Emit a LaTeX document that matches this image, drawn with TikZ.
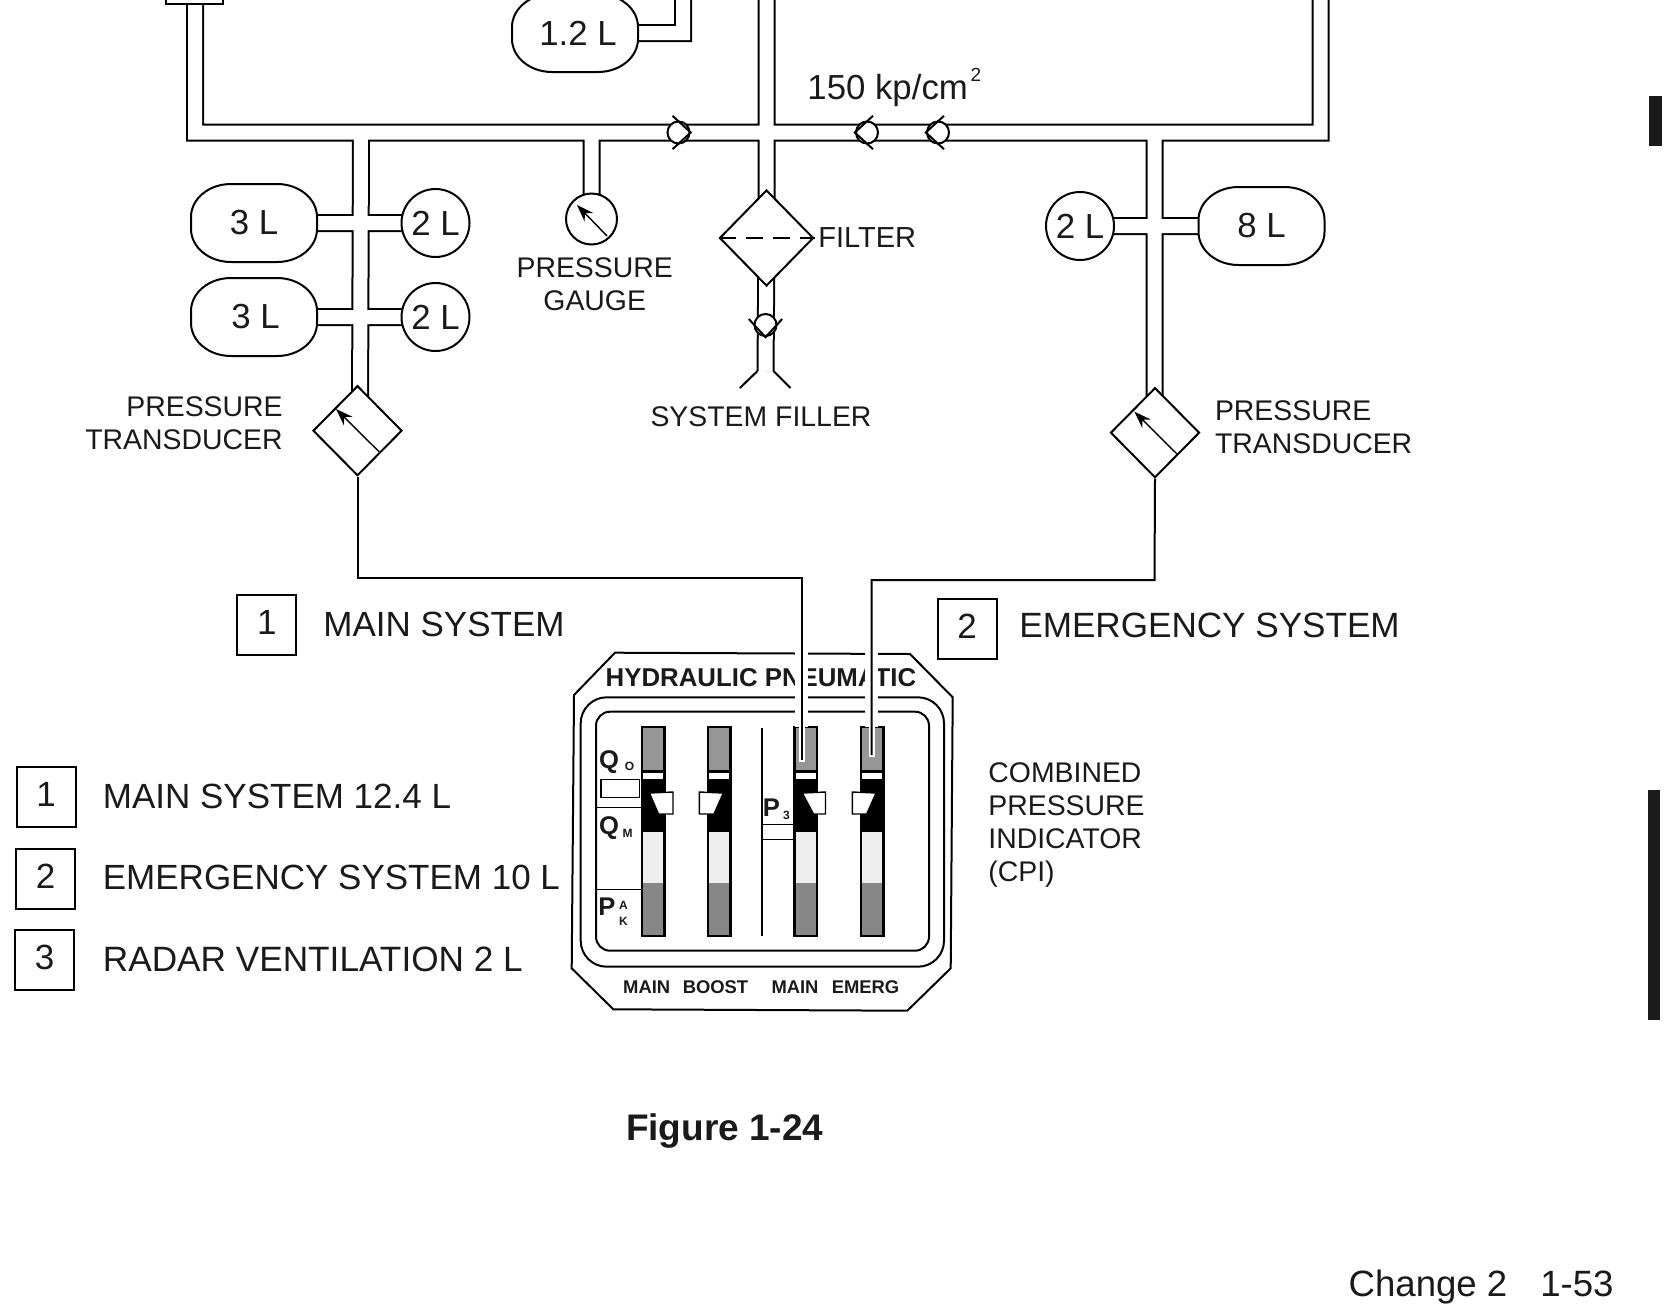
\documentclass[tikz,border=0pt]{standalone}
\usepackage{fontspec}
\setmainfont{Liberation Sans}
\usepackage{tikz}
\usetikzlibrary{arrows.meta, shapes.geometric, backgrounds}

\definecolor{inkblack}{HTML}{1A1A1A}
\definecolor{bargray}{HTML}{969696}
\definecolor{barlight}{HTML}{EEEEEE}

\tikzset{
  ln/.style={line width=1pt, draw=black},
  txt/.style={inner sep=0pt, text=inkblack, font=\fontsize{14.2}{16.4}\selectfont},
  big/.style={inner sep=0pt, text=inkblack, font=\fontsize{17.5}{20}\selectfont},
  tank/.style={inner sep=0pt, minimum width=63pt, minimum height=39pt, font=\fontsize{17.4}{20}\selectfont, text=inkblack},
  ball/.style={ln, fill=white, circle, inner sep=0pt, minimum size=34pt, font=\fontsize{17.4}{20}\selectfont, text=inkblack},
  xmtr/.style={ln, fill=white, diamond, inner sep=0pt, minimum width=44.5pt, minimum height=45pt},
  valve/.style={ln, fill=white, circle, inner sep=0pt, minimum size=11pt},
  tag/.style={ln, inner sep=0pt, minimum width=29.5pt, minimum height=30pt, text depth=3pt, font=\fontsize{17.5}{20}\selectfont, text=inkblack},
  cpi/.style={inner sep=0pt, text=inkblack, font=\bfseries\fontsize{9.2}{11}\selectfont},
  cpibig/.style={inner sep=0pt, text=inkblack, font=\bfseries\fontsize{12.8}{14}\selectfont},
  cpismall/.style={inner sep=0pt, text=inkblack, font=\bfseries\fontsize{6}{7}\selectfont},
  halo/.style={white, line width=6.5pt},
  needle/.style={line width=0.7pt, -{Stealth[length=8.5pt,width=6pt]}}
}

\begin{document}
\begin{tikzpicture}[x=0.5pt, y=-0.5pt, >=Stealth]
\path[use as bounding box, clip] (0,0) rectangle (1664,1312);

% parts on the lines
\node[ln, fill=white, inner sep=0pt, minimum width=28.5pt, minimum height=14pt] (stub) at (194,-10) {};
\foreach \tn/\tx/\ty/\lx/\tt in {tankT/575/33/578/1.2 L, tankA/254/223/254/3 L, tankB/254/317/255.5/3 L, tankE/1261.5/226/1261.5/8 L} {
  \draw[ln, fill=white] (\tx-23,\ty-39) -- (\tx+23,\ty-39)
    arc[start angle=90, end angle=0, x radius=20pt, y radius=16.5pt] -- ++(0,12)
    arc[start angle=0, end angle=-90, x radius=20pt, y radius=16.5pt] -- (\tx-23,\ty+39)
    arc[start angle=-90, end angle=-180, x radius=20pt, y radius=16.5pt] -- ++(0,-12)
    arc[start angle=180, end angle=90, x radius=20pt, y radius=16.5pt] -- cycle;
  \node[tank] (\tn) at (\lx,\ty) {\tt};
}
\node[ball] (ballA) at (435.5,223) {2 L};
\node[ball] (ballB) at (435.5,317) {2 L};
\node[ball] (ballE) at (1080,226) {2 L};
\node[ln, fill=white, circle, inner sep=0pt, minimum size=25.5pt] (gauge) at (591.5,219) {};
\node[xmtr, minimum width=47pt, minimum height=48pt] (filter) at (766.5,238) {};
\node[xmtr] (xmtrL) at (357.5,430.7) {};
\node[xmtr] (xmtrR) at (1155,432.7) {};
\foreach \vn/\vx/\vy/\vr in {chkA/678.5/132.5/0, chkB/867/132.5/180, chkC/938/132.5/180, chkD/765.5/325/-90} {
  \node[valve] (\vn) at (\vx,\vy) {};
  \draw[ln, shift={(\vn)}, rotate=\vr] (-6,-16.7) -- (12.2,0) -- (-6,16.7);
}

% ends and tees of the double lines
\coordinate (lft) at (195,0);
\coordinate (rgt) at (1320.5,0);
\coordinate (ctr) at (766.5,0);
\coordinate (jR) at (1320.5,132.5);
\coordinate (jL) at (361,132.5);
\coordinate (jE) at (1154.5,132.5);
\coordinate (endL) at (360,420);
\coordinate (endR) at (1154.5,420);
\coordinate (fill) at (765.5,371);
\coordinate (tTop) at (683,0);

\begin{scope}[on background layer]
\foreach \pw/\pc in {9pt/black, 7pt/white}
  \draw[line width=\pw, \pc] (lft) |- (jR) -- (rgt)
    (ctr) -- (filter.center) -- (fill)
    (jL) -- (endL) (jE) -- (endR)
    (gauge.center |- jR) -- (gauge.center)
    (tankA.center) -- (ballA.center) (tankB.center) -- (ballB.center) (ballE.center) -- (tankE.center)
    (tankT.center) -| (tTop);
\end{scope}

% filler mouth, filter and dial marks
\draw[ln] ([xshift=-4pt]fill) -- ++(-8.8pt,-8.5pt);
\draw[ln] ([xshift=4pt]fill) -- ++(8.5pt,-8.5pt);
\draw[ln, dash pattern=on 8.5pt off 5pt] (filter.west) -- (filter.east);
\draw[needle] (607,236) -- (577,205);
\draw[needle] (379.3,452) -- (336,409);
\draw[needle] (1177,454) -- (1134.4,411.7);

% labels on the diagram
\node[txt, anchor=east, align=right] (lblL) at (283,423.5) {PRESSURE\\TRANSDUCER};
\node[txt, anchor=west, align=left] (lblR) at (1214.6,427.5) {PRESSURE\\TRANSDUCER};
\node[txt, align=center] (lblG) at (594.7,284.5) {PRESSURE\\GAUGE};
\node[txt, anchor=west, font=\fontsize{14.5}{16}\selectfont] (lblF) at (818,238) {FILTER};
\node[txt] (lblS) at (761,416.5) {SYSTEM FILLER};
\node[big, anchor=base west, font=\fontsize{17.4}{20}\selectfont] (press) at (807,99) {150 kp/cm};
\node[inner sep=0pt, text=inkblack, font=\fontsize{9.5}{11}\selectfont] (sq) at (976,75) {2};

% indicator
\draw[ln, fill=white] (615,652.7) -- (910,654) -- (952.7,697.3) -- (950.7,968.3) -- (907.3,1010.7) -- (613.3,1009.3) -- (571.7,968.3) -- (574,695) -- cycle;
\draw[ln, rounded corners=13pt] (580.7,697.3) rectangle (944,966.7);
\draw[ln, rounded corners=7pt] (596,711.7) rectangle (929,950.7);
\foreach \gx in {642,708,794.5,861} {
  \fill[bargray] (\gx,727) rectangle ++(22.5,43);
  \fill[black] (\gx,770) rectangle ++(22.5,3);
  \fill[black] (\gx,779) rectangle ++(22.5,53);
  \fill[barlight] (\gx,832) rectangle ++(22.5,51);
  \fill[bargray!90!black] (\gx,883) rectangle ++(22.5,53);
  \draw[line width=1.2pt] (\gx,727) rectangle ++(22.5,209);
}
\foreach \gx/\pa/\pb/\pc in {642/7.5/31/16.5, 794.5/7.8/31/19, 708/15.3/-8.7/6, 861/15/-8.7/5.7}
  \draw[line width=0.7pt, fill=white] (\gx+\pa,793) -- (\gx+\pb,792) -- (\gx+\pb,814) -- (\gx+\pc,814) -- cycle;
\draw[line width=0.8pt, fill=white] (600.7,779.3) rectangle (639.3,797.3);
\draw[line width=0.8pt] (596,807.5) -- (642,807.5) (596,889.3) -- (642,889.3);
\draw[line width=0.8pt] (761.7,728) -- (761.7,935.7) (761.7,824.3) -- (794,824.3) (761.7,839.3) -- (794,839.3);

\node[cpi, font=\bfseries\fontsize{12.9}{14}\selectfont] (cpiT) at (761,677.7) {HYDRAULIC PNEUMATIC};
\node[cpibig] (qo) at (609,762.5) {Q};
\node[cpismall] (qos) at (629.5,766) {O};
\node[cpibig] (qm) at (609,828) {Q};
\node[cpismall] (qms) at (627.5,833) {M};
\node[cpibig] (pak) at (607,906.5) {P};
\node[cpismall] (paka) at (623.5,905.5) {A};
\node[cpismall] (pakk) at (623.5,921) {K};
\node[cpibig] (pt) at (771.5,807.5) {P};
\node[cpismall] (pts) at (786.5,815) {3};
\node[cpi] (mainA) at (646.7,986.7) {MAIN};
\node[cpi] (boost) at (715.5,986.7) {BOOST};
\node[cpi] (mainB) at (795,986.7) {MAIN};
\node[cpi] (emerg) at (865.5,986.7) {EMERG};

% signal lines into the indicator
\coordinate (bendL) at (357.5,578);
\coordinate (bendR) at (1154.5,580);
\coordinate (sensL) at (801.7,760);
\coordinate (sensR) at (871.7,755);
\draw[halo] (801.7,645) -- (801.7,727);
\draw[halo] (871.7,645) -- (871.7,727);
\draw[white, line width=3pt] (801.7,727) -- (801.7,762);
\draw[white, line width=3pt] (871.7,727) -- (871.7,757);
\draw[ln] (xmtrL.south) -- (bendL) -| (sensL);
\draw[ln] (xmtrR.south) -- (bendR) -| (sensR);

% key
\node[tag] (tagA) at (266.8,625.3) {1};
\node[big, anchor=west] (tagAt) at (323,624) {MAIN SYSTEM};
\node[tag] (tagB) at (967.2,628.8) {2};
\node[big, anchor=west, font=\fontsize{17.55}{20}\selectfont] (tagBt) at (1019,625) {EMERGENCY SYSTEM};
\node[tag] (keyA) at (46,797.2) {1};
\node[tag] (keyB) at (45.5,879) {2};
\node[tag] (keyC) at (44.7,960) {3};
\node[big, anchor=west] (keyAt) at (102.5,796) {MAIN SYSTEM 12.4 L};
\node[big, anchor=west] (keyBt) at (102.5,877) {EMERGENCY SYSTEM 10 L};
\node[big, anchor=west, font=\fontsize{17.6}{20}\selectfont] (keyCt) at (102.5,959) {RADAR VENTILATION 2 L};
\node[txt, anchor=west, align=left] (lblC) at (988,825) {COMBINED\\PRESSURE\\INDICATOR\\(CPI)};

% page marks
\node[anchor=base, inner sep=0pt, text=inkblack, font=\bfseries\fontsize{18.5}{20}\selectfont] (figno) at (724.7,1140) {Figure 1-24};
\node[anchor=base east, inner sep=0pt, text=inkblack, font=\fontsize{18.3}{20}\selectfont] (pageno) at (1614,1296) {Change 2\hspace{16.5pt}1-53};
\fill[inkblack] (1649,96) rectangle (1662,146);
\fill[inkblack] (1647.5,790) rectangle (1660,1020);
\end{tikzpicture}
\end{document}
